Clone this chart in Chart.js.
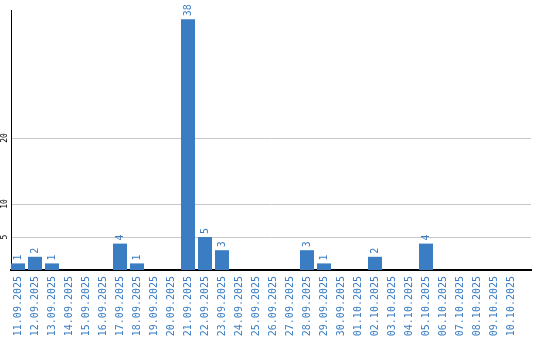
<!DOCTYPE html>
<html>
<head>
<meta charset="utf-8">
<script src="https://cdn.jsdelivr.net/npm/chart.js@4/dist/chart.umd.min.js"></script>
<style>
  html, body { margin: 0; padding: 0; background: #fff; }
  #wrap { width: 540px; height: 340px; }
</style>
</head>
<body>
<div id="wrap"><canvas id="countChart" width="540" height="340"></canvas></div>
<script>
const dates = ['11.09.2025', '12.09.2025', '13.09.2025', '14.09.2025', '15.09.2025', '16.09.2025',
    '17.09.2025', '18.09.2025', '19.09.2025', '20.09.2025', '21.09.2025', '22.09.2025',
    '23.09.2025', '24.09.2025', '25.09.2025', '26.09.2025', '27.09.2025', '28.09.2025',
    '29.09.2025', '30.09.2025', '01.10.2025', '02.10.2025', '03.10.2025', '04.10.2025',
    '05.10.2025', '06.10.2025', '07.10.2025', '08.10.2025', '09.10.2025', '10.10.2025'];
const counts = [1, 2, 1, 0, 0, 0, 4, 1, 0, 0, 38, 5, 3, 0, 0, 0, 0, 3, 1, 0, 0, 2, 0, 0, 4, 0, 0, 0, 0, 0];
const yTicks = [5, 10, 20];

const blue = '#3a7dc3';
const mono = '"DejaVu Sans Mono", "Liberation Mono", monospace';

// value labels drawn vertically above each bar
const barLabels = {
    id: 'barLabels',
    afterDatasetsDraw(chart) {
        const ctx = chart.ctx;
        const meta = chart.getDatasetMeta(0);
        ctx.save();
        ctx.fillStyle = blue;
        ctx.font = '10px ' + mono;
        ctx.textAlign = 'left';
        ctx.textBaseline = 'middle';
        meta.data.forEach((bar, i) => {
            if (!counts[i]) return;
            ctx.save();
            ctx.translate(bar.x, bar.y - 3);
            ctx.rotate(-Math.PI / 2);
            ctx.fillText(String(counts[i]), 0, 0);
            ctx.restore();
        });
        ctx.restore();
    }
};

// rotated y tick labels
const yLabels = {
    id: 'yLabels',
    afterDraw(chart) {
        const ctx = chart.ctx;
        const y = chart.scales.y;
        ctx.save();
        ctx.fillStyle = '#000';
        ctx.font = '8px ' + mono;
        ctx.textAlign = 'center';
        ctx.textBaseline = 'middle';
        yTicks.forEach(v => {
            ctx.save();
            ctx.translate(5, y.getPixelForValue(v));
            ctx.rotate(-Math.PI / 2);
            ctx.fillText(String(v), 0, 0);
            ctx.restore();
        });
        ctx.restore();
    }
};

const ctx = document.getElementById('countChart').getContext('2d');
const countChart = new Chart(ctx, {
    type: 'bar',
    data: {
        datasets: [{
            data: counts.map((v, i) => ({ x: i, y: v })),
            backgroundColor: blue,
            barPercentage: 14 / 17,
            categoryPercentage: 1
        }]
    },
    options: {
        responsive: false,
        animation: false,
        layout: { padding: { top: 10, right: 9, left: 0, bottom: 0 } },
        plugins: { legend: { display: false }, tooltip: { enabled: false } },
        scales: {
            x: {
                type: 'linear',
                offset: false,
                min: -7 / 17,
                max: 520 / 17 - 7 / 17,
                afterBuildTicks: axis => { axis.ticks = dates.map((d, i) => ({ value: i })); },
                afterFit: axis => { axis.height = 70; },
                grid: { display: false, drawTicks: false, offset: false },
                border: { color: '#000', width: 2 },
                ticks: {
                    autoSkip: false,
                    minRotation: 90,
                    maxRotation: 90,
                    padding: 6,
                    color: blue,
                    font: { family: mono, size: 10 },
                    callback: v => dates[v] || ''
                }
            },
            y: {
                min: 0,
                max: 260 / 6.6,
                afterBuildTicks: axis => { axis.ticks = yTicks.map(v => ({ value: v })); },
                afterFit: axis => { axis.width = 11; },
                grid: { color: '#c8c8c8', drawTicks: false, lineWidth: 1 },
                border: { color: '#000', width: 1 },
                ticks: { display: false }
            }
        }
    },
    plugins: [barLabels, yLabels]
});
</script>
</body>
</html>
